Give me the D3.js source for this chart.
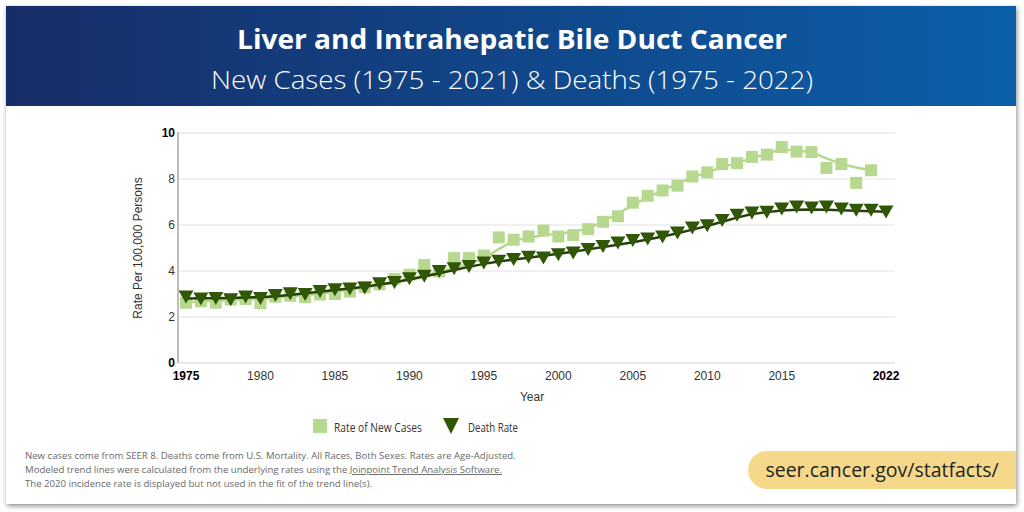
<!DOCTYPE html>
<html>
<head>
<meta charset="utf-8">
<title>Liver and Intrahepatic Bile Duct Cancer</title>
<style>
  html, body { margin: 0; padding: 0; background: #fff; }
  svg { display: block; }
</style>
</head>
<body>
<script src="https://d3js.org/d3.v7.min.js"></script>
<script>
// years for each series
var caseYears = d3.range(1975, 2022);   // 1975-2021
var deathYears = d3.range(1975, 2023);  // 1975-2022

// observed rate of new cases, per 100,000
var caseRates = [2.62, 2.68, 2.62, 2.76, 2.78, 2.6, 2.88, 2.92, 2.86, 2.98, 3.0, 3.1, 3.3, 3.42, 3.65, 3.84,
  4.26, 3.98, 4.56, 4.56, 4.67, 5.46, 5.36, 5.5, 5.76, 5.5, 5.56, 5.82, 6.14, 6.38, 6.97, 7.27, 7.5, 7.71,
  8.11, 8.29, 8.65, 8.69, 8.96, 9.06, 9.39, 9.19, 9.17, 8.48, 8.65, 7.83, 8.38];

// modeled trend for new cases
var caseTrend = [2.64, 2.67, 2.7, 2.73, 2.76, 2.79, 2.83, 2.88, 2.94, 3.01, 3.09, 3.18, 3.28, 3.39, 3.52, 3.66,
  3.81, 3.97, 4.14, 4.32, 4.55, 4.95, 5.32, 5.45, 5.55, 5.62, 5.7, 5.86, 6.15, 6.5, 6.86, 7.2, 7.5, 7.8,
  8.06, 8.3, 8.5, 8.7, 8.9, 9.1, 9.3, 9.23, 9.17, 8.9, 8.65, 8.5, 8.38];

// observed death rate, per 100,000
var deathRates = [2.87, 2.78, 2.8, 2.75, 2.87, 2.8, 2.94, 3.01, 2.98, 3.11, 3.19, 3.22, 3.26, 3.45, 3.5, 3.66,
  3.77, 3.98, 4.1, 4.2, 4.35, 4.42, 4.5, 4.6, 4.56, 4.71, 4.78, 4.93, 5.07, 5.22, 5.33, 5.39, 5.48, 5.65,
  5.87, 5.97, 6.2, 6.42, 6.52, 6.55, 6.7, 6.78, 6.74, 6.78, 6.7, 6.64, 6.64, 6.57];

// modeled trend for deaths
var deathTrend = [2.8, 2.81, 2.82, 2.83, 2.85, 2.86, 2.9, 2.96, 3.03, 3.1, 3.17, 3.24, 3.32, 3.41, 3.51, 3.63,
  3.76, 3.9, 4.04, 4.18, 4.31, 4.41, 4.5, 4.58, 4.66, 4.75, 4.84, 4.94, 5.04, 5.14, 5.25, 5.37, 5.5, 5.64,
  5.8, 5.96, 6.14, 6.32, 6.48, 6.56, 6.63, 6.66, 6.67, 6.66, 6.64, 6.62, 6.6, 6.58];

var xTicks = [1975, 1980, 1985, 1990, 1995, 2000, 2005, 2010, 2015, 2022];
var yTicks = [0, 2, 4, 6, 8, 10];
var legendNames = ["Rate of New Cases", "Death Rate"];
var notes = [
  "New cases come from SEER 8. Deaths come from U.S. Mortality. All Races, Both Sexes. Rates are Age-Adjusted.",
  "Modeled trend lines were calculated from the underlying rates using the ",
  "The 2020 incidence rate is displayed but not used in the fit of the trend line(s)."
];

var lightGreen = "#b6d98f";
var darkGreen = "#2f5706";

var svg = d3.select("body").append("svg")
    .attr("width", 1024)
    .attr("height", 512);

var defs = svg.append("defs");
var grad = defs.append("linearGradient").attr("id", "hdr");
grad.append("stop").attr("offset", "0%").attr("stop-color", "#172d68");
grad.append("stop").attr("offset", "100%").attr("stop-color", "#0b5fa9");

var shadow = defs.append("filter").attr("id", "shadow")
    .attr("x", "-5%").attr("y", "-5%").attr("width", "110%").attr("height", "110%");
shadow.append("feDropShadow")
    .attr("dx", 1).attr("dy", 2).attr("stdDeviation", 2.5)
    .attr("flood-color", "#000").attr("flood-opacity", 0.45);

// card
svg.append("rect")
    .attr("x", 6).attr("y", 6).attr("width", 1010).attr("height", 498)
    .attr("fill", "#fff")
    .attr("filter", "url(#shadow)");

// header band
svg.append("rect")
    .attr("x", 6).attr("y", 6).attr("width", 1010).attr("height", 100)
    .attr("fill", "url(#hdr)");

svg.append("text")
    .attr("x", 512).attr("y", 49)
    .attr("text-anchor", "middle")
    .attr("fill", "#fff")
    .attr("textLength", 550)
    .attr("lengthAdjust", "spacingAndGlyphs")
    .style("font-family", "'Open Sans', sans-serif")
    .style("font-weight", 700)
    .style("font-size", "26px")
    .text("Liver and Intrahepatic Bile Duct Cancer");

svg.append("text")
    .attr("x", 512).attr("y", 89)
    .attr("text-anchor", "middle")
    .attr("fill", "#fff")
    .attr("textLength", 602)
    .attr("lengthAdjust", "spacingAndGlyphs")
    .style("font-family", "'Open Sans', sans-serif")
    .style("font-weight", 300)
    .style("font-size", "26px")
    .text("New Cases (1975 - 2021) & Deaths (1975 - 2022)");

// chart
var x = d3.scaleLinear().domain([1975, 2022]).range([186, 886]);
var y = d3.scaleLinear().domain([0, 10]).range([363, 133]);
var plotLeft = 178, plotRight = 895;

var g = svg.append("g").style("font-family", "Arial, 'Liberation Sans', sans-serif");

// gridlines
g.selectAll(".grid")
  .data(yTicks.filter(d => d > 0))
  .enter().append("line")
    .attr("x1", plotLeft).attr("x2", plotRight)
    .attr("y1", d => y(d)).attr("y2", d => y(d))
    .attr("stroke", "#e2e2e2").attr("stroke-width", 1);

// baseline + y axis line
g.append("line")
    .attr("x1", plotLeft).attr("x2", plotRight)
    .attr("y1", y(0)).attr("y2", y(0))
    .attr("stroke", "#e2e2e2").attr("stroke-width", 1.5);
g.append("line")
    .attr("x1", plotLeft).attr("x2", plotLeft)
    .attr("y1", y(10) - 1).attr("y2", y(0))
    .attr("stroke", "#bdbdbd").attr("stroke-width", 2);

// y tick labels
g.selectAll(".ytick")
  .data(yTicks)
  .enter().append("text")
    .attr("x", 175).attr("y", d => y(d) + 4)
    .attr("text-anchor", "end")
    .attr("fill", d => (d === 0 || d === 10) ? "#000" : "#333")
    .style("font-size", "12px")
    .style("font-weight", d => (d === 0 || d === 10) ? 700 : 400)
    .text(d => d);

// x tick labels
g.selectAll(".xtick")
  .data(xTicks)
  .enter().append("text")
    .attr("x", d => x(d)).attr("y", 380)
    .attr("text-anchor", "middle")
    .attr("fill", d => (d === 1975 || d === 2022) ? "#000" : "#333")
    .style("font-size", "12px")
    .style("font-weight", d => (d === 1975 || d === 2022) ? 700 : 400)
    .text(d => d);

g.append("text")
    .attr("x", 532).attr("y", 401)
    .attr("text-anchor", "middle")
    .attr("fill", "#333")
    .style("font-size", "12px")
    .text("Year");

g.append("text")
    .attr("transform", "translate(142," + 248 + ") rotate(-90)")
    .attr("text-anchor", "middle")
    .attr("fill", "#333")
    .style("font-size", "12px")
    .text("Rate Per 100,000 Persons");

// trend lines
var line = d3.line().x(d => x(d[0])).y(d => y(d[1]));

g.append("path")
    .datum(caseYears.map((yr, i) => [yr, caseTrend[i]]))
    .attr("d", line)
    .attr("fill", "none")
    .attr("stroke", lightGreen)
    .attr("stroke-width", 2.5);

// squares
g.selectAll(".case")
  .data(caseYears.map((yr, i) => [yr, caseRates[i]]))
  .enter().append("rect")
    .attr("x", d => x(d[0]) - 6)
    .attr("y", d => y(d[1]) - 6)
    .attr("width", 12).attr("height", 12)
    .attr("fill", lightGreen);

g.append("path")
    .datum(deathYears.map((yr, i) => [yr, deathTrend[i]]))
    .attr("d", line)
    .attr("fill", "none")
    .attr("stroke", "#26400c")
    .attr("stroke-width", 2.5);

// down triangles
var tri = d3.symbol().type({
  draw: function(ctx, size) {
    var w = 7.5, h = 13;
    ctx.moveTo(-w, -h / 2);
    ctx.lineTo(w, -h / 2);
    ctx.lineTo(0, h / 2);
    ctx.closePath();
  }
});

g.selectAll(".death")
  .data(deathYears.map((yr, i) => [yr, deathRates[i]]))
  .enter().append("path")
    .attr("d", tri)
    .attr("transform", d => "translate(" + x(d[0]) + "," + y(d[1]) + ")")
    .attr("fill", darkGreen);

// legend
var leg = svg.append("g").style("font-family", "'Open Sans', sans-serif");
leg.append("rect")
    .attr("x", 313).attr("y", 419).attr("width", 14).attr("height", 14)
    .attr("fill", lightGreen);
leg.append("text")
    .attr("x", 334).attr("y", 432)
    .attr("fill", "#333")
    .attr("textLength", 88)
    .attr("lengthAdjust", "spacingAndGlyphs")
    .style("font-size", "13px")
    .text(legendNames[0]);
leg.append("path")
    .attr("d", "M443,418 L459,418 L451,434 Z")
    .attr("fill", darkGreen);
leg.append("text")
    .attr("x", 468).attr("y", 432)
    .attr("fill", "#333")
    .attr("textLength", 50)
    .attr("lengthAdjust", "spacingAndGlyphs")
    .style("font-size", "13px")
    .text(legendNames[1]);

// footnote
var foot = svg.append("g")
    .style("font-family", "'Open Sans', sans-serif")
    .style("font-size", "9.6px")
    .attr("fill", "#6a6a6a");

foot.append("text").attr("x", 25).attr("y", 459).text(notes[0]);
var l2 = foot.append("text").attr("x", 25).attr("y", 473);
l2.append("tspan").text(notes[1]);
l2.append("tspan").style("text-decoration", "underline").text("Joinpoint Trend Analysis Software.");
foot.append("text").attr("x", 25).attr("y", 487).text(notes[2]);

// url pill
svg.append("path")
    .attr("d", "M1016,451 L767,451 A19,19 0 0 0 767,489 L1016,489 Z")
    .attr("fill", "#f6d88a");
svg.append("text")
    .attr("x", 882).attr("y", 477)
    .attr("text-anchor", "middle")
    .attr("fill", "#222")
    .style("font-family", "'Open Sans', sans-serif")
    .style("font-size", "19.5px")
    .text("seer.cancer.gov/statfacts/");
</script>
</body>
</html>
